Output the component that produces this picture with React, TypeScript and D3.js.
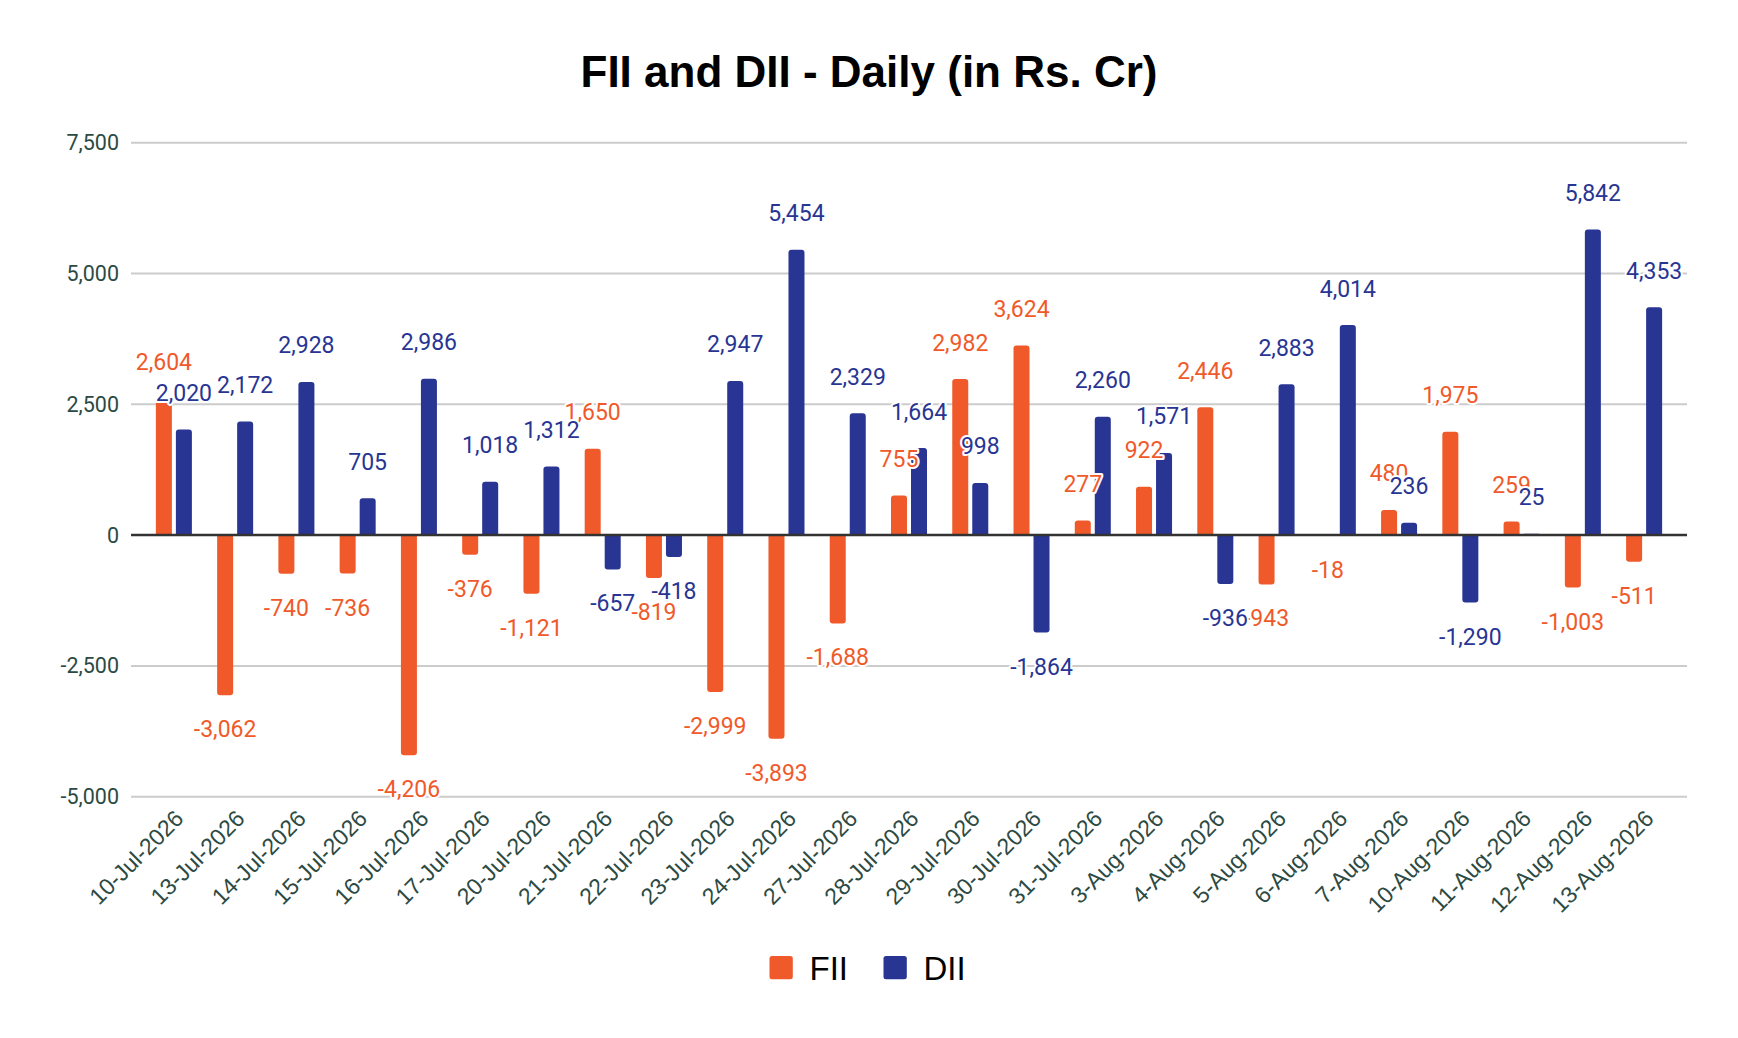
import { useEffect } from "react";
import * as d3 from "d3";

const dates = [
  "10-Jul-2026", "13-Jul-2026", "14-Jul-2026", "15-Jul-2026", "16-Jul-2026",
  "17-Jul-2026", "20-Jul-2026", "21-Jul-2026", "22-Jul-2026", "23-Jul-2026",
  "24-Jul-2026", "27-Jul-2026", "28-Jul-2026", "29-Jul-2026", "30-Jul-2026",
  "31-Jul-2026", "3-Aug-2026", "4-Aug-2026", "5-Aug-2026", "6-Aug-2026",
  "7-Aug-2026", "10-Aug-2026", "11-Aug-2026", "12-Aug-2026", "13-Aug-2026",
];

const fiiValues = [
  2604, -3062, -740, -736, -4206, -376, -1121, 1650, -819, -2999, -3893, -1688, 755,
  2982, 3624, 277, 922, 2446, -943, -18, 480, 1975, 259, -1003, -511,
];

const diiValues = [
  2020, 2172, 2928, 705, 2986, 1018, 1312, -657, -418, 2947, 5454, 2329, 1664,
  998, -1864, 2260, 1571, -936, 2883, 4014, 236, -1290, 25, 5842, 4353,
];

const yTicks = [-5000, -2500, 0, 2500, 5000, 7500];

const seriesNames = ["FII", "DII"];
const seriesColors = ["#F05A2A", "#283593"];

const width = 1738;
const height = 1038;
const plotLeft = 131;
const plotRight = 1687;
const plotTop = 142.7;
const plotBottom = 796.7;

const fmt = d3
  .formatLocale({ decimal: ".", thousands: ",", grouping: [3], currency: ["", ""], minus: "-" })
  .format(",");

// bar with rounded corners at the far end only
function barPath(x: number, w: number, y0: number, y1: number, r: number) {
  const h = Math.abs(y1 - y0);
  const rr = Math.min(r, h / 2, w / 2);
  if (y1 <= y0) {
    return `M${x},${y0}V${y1 + rr}Q${x},${y1} ${x + rr},${y1}H${x + w - rr}Q${x + w},${y1} ${x + w},${y1 + rr}V${y0}Z`;
  }
  return `M${x},${y0}V${y1 - rr}Q${x},${y1} ${x + rr},${y1}H${x + w - rr}Q${x + w},${y1} ${x + w},${y1 - rr}V${y0}Z`;
}

const App = () => {
  useEffect(() => {
    document.body.style.margin = "0";
  }, []);

  const x = d3
    .scaleBand<string>()
    .domain(dates)
    .range([plotLeft, plotRight])
    .paddingInner(0.412)
    .paddingOuter(0.406);

  const xs = d3
    .scaleBand<string>()
    .domain(seriesNames)
    .range([0, x.bandwidth()])
    .paddingInner(0.2);

  const y = d3.scaleLinear().domain([-5000, 7500]).range([plotBottom, plotTop]);

  const series = [fiiValues, diiValues];

  return (
    <svg width={width} height={height} style={{ display: "block", background: "#fff" }}>
      <text
        x={width / 2}
        y={87}
        textAnchor="middle"
        fontFamily="'Liberation Sans', Arial, sans-serif"
        fontWeight="bold"
        fontSize={44}
        fill="#000"
      >
        FII and DII - Daily (in Rs. Cr)
      </text>

      {/* grid + y ticks */}
      {yTicks.map((t) => (
        <g key={t}>
          {t !== 0 && (
            <line x1={plotLeft} x2={plotRight} y1={y(t)} y2={y(t)} stroke="#cccccc" strokeWidth={2} />
          )}
          <text
            x={119}
            y={y(t) + 7.5}
            textAnchor="end"
            fontFamily="Roboto, sans-serif"
            fontSize={21.5}
            fill="#2c4a43"
          >
            {fmt(t)}
          </text>
        </g>
      ))}

      {/* bars */}
      {series.map((vals, si) => (
        <g key={seriesNames[si]} fill={seriesColors[si]}>
          {vals.map((v, i) => (
            <path
              key={dates[i]}
              d={barPath((x(dates[i]) ?? 0) + (xs(seriesNames[si]) ?? 0), xs.bandwidth(), y(0), y(v), 3)}
            />
          ))}
        </g>
      ))}

      <line x1={plotLeft} x2={plotRight} y1={y(0)} y2={y(0)} stroke="#333333" strokeWidth={2.5} />

      {/* data labels */}
      {series.map((vals, si) => (
        <g
          key={"lab" + seriesNames[si]}
          fontFamily="Roboto, sans-serif"
          fontSize={23}
          textAnchor="middle"
          fill={seriesColors[si]}
          stroke="#fff"
          strokeWidth={4}
          strokeLinejoin="round"
          style={{ paintOrder: "stroke" }}
        >
          {vals.map((v, i) => {
            const cx = (x(dates[i]) ?? 0) + (xs(seriesNames[si]) ?? 0) + xs.bandwidth() / 2;
            const ty = v >= 0 ? y(v) - 28.5 : y(v) + 42;
            return (
              <text key={dates[i]} x={cx} y={ty}>
                {fmt(v)}
              </text>
            );
          })}
        </g>
      ))}

      {/* x axis labels */}
      {dates.map((d) => {
        const cx = (x(d) ?? 0) + x.bandwidth() / 2 + 11;
        return (
          <text
            key={d}
            transform={`translate(${cx},${820}) rotate(-45)`}
            textAnchor="end"
            fontFamily="'Liberation Sans', Arial, sans-serif"
            fontSize={23}
            fill="#2c4a43"
          >
            {d}
          </text>
        );
      })}

      {/* legend */}
      {seriesNames.map((name, i) => {
        const lx = i === 0 ? 769.5 : 883.5;
        return (
          <g key={"leg" + name}>
            <rect x={lx} y={956} width={23.3} height={23.3} rx={2.5} fill={seriesColors[i]} />
            <text
              x={lx + 40}
              y={979.5}
              fontFamily="'Liberation Sans', Arial, sans-serif"
              fontSize={33}
              fill="#000"
            >
              {name}
            </text>
          </g>
        );
      })}
    </svg>
  );
};

export default App;
